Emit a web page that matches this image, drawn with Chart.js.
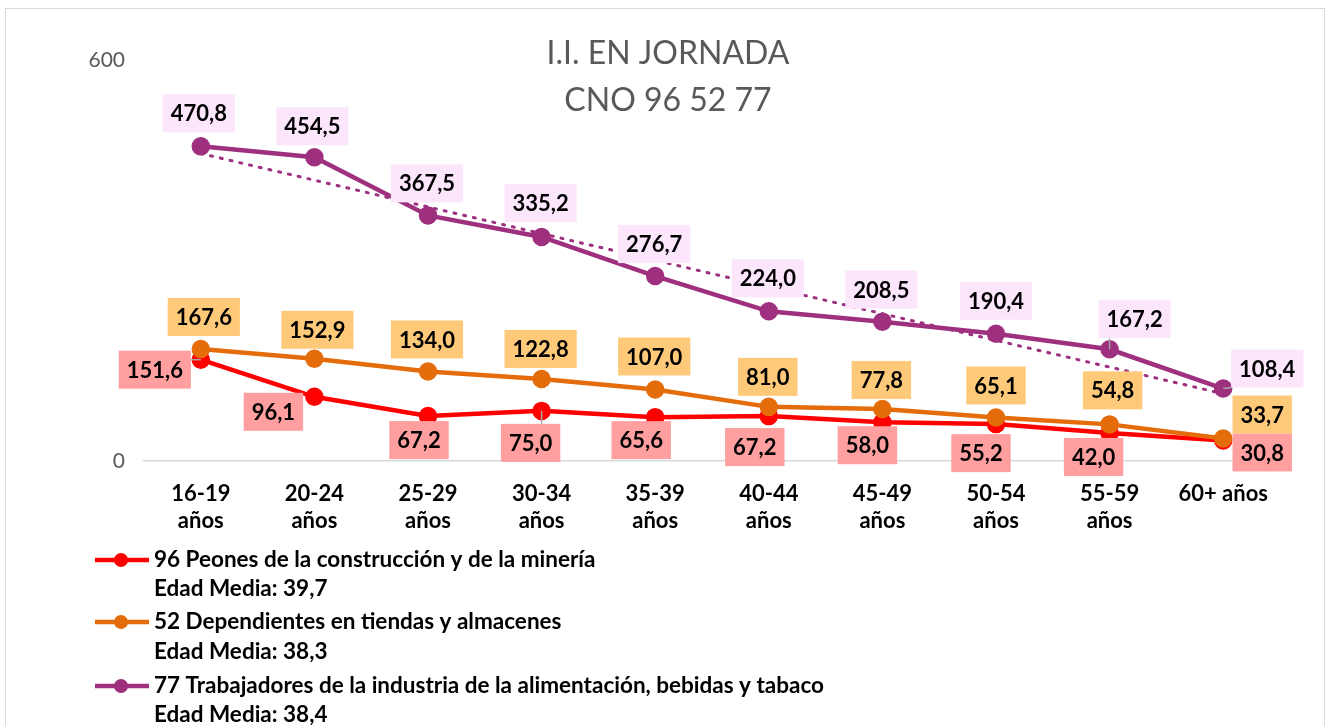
<!DOCTYPE html>
<html>
<head>
<meta charset="utf-8">
<script src="https://cdn.jsdelivr.net/npm/chart.js@4.4.1/dist/chart.umd.min.js"></script>
<style>
  html, body { margin: 0; padding: 0; background: #fff; overflow: hidden; }
  #box { position: absolute; left: 5px; top: 8px; width: 1318px; height: 730px; border: 1px solid #d9d9d9; }
  #myChart { position: absolute; left: 0; top: 0; }
</style>
</head>
<body>
<div id="box"><canvas id="myChart" width="1318" height="717"></canvas></div>
<script>
// data
const categories = [["16-19","años"],["20-24","años"],["25-29","años"],["30-34","años"],["35-39","años"],
  ["40-44","años"],["45-49","años"],["50-54","años"],["55-59","años"],"60+ años"];
const peones = [151.6, 96.1, 67.2, 75.0, 65.6, 67.2, 58.0, 55.2, 42.0, 30.8];
const dependientes = [167.6, 152.9, 134.0, 122.8, 107.0, 81.0, 77.8, 65.1, 54.8, 33.7];
const trabajadores = [470.8, 454.5, 367.5, 335.2, 276.7, 224.0, 208.5, 190.4, 167.2, 108.4];
const trendEnds = [460.1, 100.6];   // dotted trend line, first and last category
const seriesNames = ["96 Peones de la construcción y de la minería",
  "52 Dependientes en tiendas y almacenes",
  "77 Trabajadores de la industria de la alimentación, bebidas y tabaco"];
const edadMedia = ["39,7", "38,3", "38,4"];
const titleLines = ["I.I. EN JORNADA", "CNO 96 52 77"];
const yMax = 600;

// styling
const colors = ["#ff0000", "#e46c0a", "#9e307f"];
const labelBg = ["#ff9f9f", "#ffc97a", "#fce6fc"];
// label offsets from the point, px
const labelOffsets = [
  [[-46,10],[-41,15],[-9,24],[-11,32],[-14,23],[-14,31],[-15,23],[-15,29],[-16,24],[39,12]],
  [[3,-32],[3,-29],[-1,-32],[-1,-30],[-1,-33],[-1,-30],[-1,-29],[0,-32],[3,-34],[39,-24]],
  [[-2,-33],[-2,-31],[-1,-32],[-1,-34],[-1,-32],[-1,-33],[-1,-32],[0,-33],[25,-30],[44,-20]]
];
const leaders = [[0,0],[0,3],[2,8],[2,9]];

const canvas = document.getElementById("myChart");
const ctx = canvas.getContext('2d');
const FONT = "Lato, 'Open Sans', sans-serif";

const trendData = categories.map(() => null);
trendData[0] = trendEnds[0];
trendData[trendData.length - 1] = trendEnds[1];

function fmt(v) { return v.toFixed(1).replace('.', ','); }

const labelPlugin = {
  id: "labels",
  afterDatasetsDraw(chart) {
    const c = chart.ctx;
    const all = [peones, dependientes, trabajadores];
    c.save();
    c.font = "bold 22px " + FONT;
    c.textAlign = "center";
    c.textBaseline = "middle";
    // leader lines first
    c.strokeStyle = "#a6a6a6";
    c.lineWidth = 1.5;
    leaders.forEach(([s, j]) => {
      const el = chart.getDatasetMeta(s).data[j];
      const [dx, dy] = labelOffsets[s][j];
      const w = c.measureText(fmt(all[s][j])).width + 16;
      const bx = el.x + dx, by = el.y + dy;
      const tx = Math.max(bx - w / 2, Math.min(el.x, bx + w / 2));
      const ty = Math.max(by - 19, Math.min(el.y, by + 19));
      c.beginPath();
      c.moveTo(el.x, el.y);
      c.lineTo(tx, ty);
      c.stroke();
    });
    all.forEach((vals, s) => {
      const meta = chart.getDatasetMeta(s);
      meta.data.forEach((el, j) => {
        const txt = fmt(vals[j]);
        const w = c.measureText(txt).width + 16;
        const [dx, dy] = labelOffsets[s][j];
        const cx = el.x + dx, cy = el.y + dy;
        c.fillStyle = labelBg[s];
        c.fillRect(cx - w / 2, cy - 19, w, 38);
        c.fillStyle = "#000";
        c.fillText(txt, cx, cy + 1);
      });
    });
    c.restore();
  }
};

const decorPlugin = {
  id: "decor",
  afterDraw(chart) {
    const c = chart.ctx;
    c.save();
    c.fillStyle = "#595959";
    c.font = "32px " + FONT;
    c.textAlign = "center";
    c.textBaseline = "middle";
    c.fillText(titleLines[0], 662, 45);
    c.fillText(titleLines[1], 662, 92);
    // legend
    const rows = [[551, 580], [613, 643], [677, 706]];
    c.textAlign = "left";
    c.font = "bold 22.5px " + FONT;
    rows.forEach(([y1, y2], i) => {
      c.strokeStyle = colors[i];
      c.lineWidth = 4.5;
      c.beginPath();
      c.moveTo(89, y1);
      c.lineTo(143, y1);
      c.stroke();
      c.fillStyle = colors[i];
      c.beginPath();
      c.arc(115, y1, 7, 0, Math.PI * 2);
      c.fill();
      c.fillStyle = "#000";
      c.fillText(seriesNames[i], 148, y1);
      c.fillText("Edad Media: " + edadMedia[i], 148, y2);
    });
    c.restore();
  }
};

const myChart = new Chart(ctx, {
  type: "line",
  data: {
    labels: categories,
    datasets: [
      { label: seriesNames[0], data: peones, borderColor: colors[0], backgroundColor: colors[0],
        borderWidth: 4.5, pointRadius: 7, pointHoverRadius: 7, order: 3 },
      { label: seriesNames[1], data: dependientes, borderColor: colors[1], backgroundColor: colors[1],
        borderWidth: 4.5, pointRadius: 7, pointHoverRadius: 7, order: 2 },
      { label: seriesNames[2], data: trabajadores, borderColor: colors[2], backgroundColor: colors[2],
        borderWidth: 4.5, pointRadius: 7, pointHoverRadius: 7, order: 1 },
      { label: "trend", data: trendData, spanGaps: true, borderColor: colors[2], borderWidth: 3,
        borderDash: [2, 8], borderCapStyle: "round", pointRadius: 0, order: 0 }
    ]
  },
  options: {
    responsive: false,
    animation: false,
    devicePixelRatio: 1,
    layout: { padding: { left: 0, top: 51, right: 44, bottom: 0 } },
    plugins: { legend: { display: false }, title: { display: false }, tooltip: { enabled: false } },
    scales: {
      x: {
        offset: true,
        grid: { display: false, drawTicks: false },
        border: { display: true, color: "#d9d9d9", width: 1.5 },
        ticks: { color: "#000", font: { family: FONT, size: 22, weight: "bold", lineHeight: 1.25 },
          padding: 19, maxRotation: 0, autoSkip: false },
        afterFit(scale) { scale.height = 265; }
      },
      y: {
        min: 0, max: yMax,
        grid: { display: false, drawTicks: false },
        border: { display: false },
        ticks: { stepSize: yMax, color: "#595959", font: { family: FONT, size: 21 }, padding: 19 },
        afterFit(scale) { scale.width = 138; }
      }
    }
  },
  plugins: [labelPlugin, decorPlugin]
});
</script>
</body>
</html>
